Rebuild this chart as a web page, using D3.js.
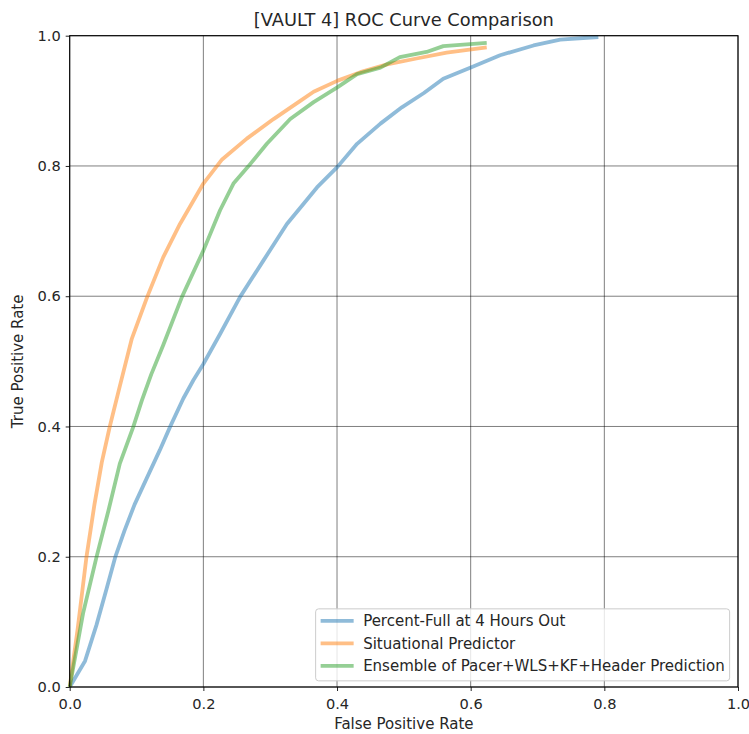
<!DOCTYPE html>
<html>
<head>
<meta charset="utf-8">
<script src="https://d3js.org/d3.v7.min.js"></script>
<style>
  body { margin: 0; background: #fff; }
  text { font-family: "DejaVu Sans", sans-serif; fill: #262626; }
</style>
</head>
<body>
<div class="roc-holder"></div>
<script>
var titleText = "[VAULT 4] ROC Curve Comparison";
var xLabel = "False Positive Rate";
var yLabel = "True Positive Rate";
var tickValues = [0, 0.2, 0.4, 0.6, 0.8, 1.0];
var seriesNames = ["Percent-Full at 4 Hours Out", "Situational Predictor", "Ensemble of Pacer+WLS+KF+Header Prediction"];
var seriesColors = ["#1f77b4", "#ff7f0e", "#2ca02c"];

var percentFullFpr = [0, 0.023, 0.040, 0.055, 0.068, 0.082, 0.097, 0.115, 0.135, 0.150, 0.170, 0.185, 0.200, 0.225, 0.255, 0.290, 0.325, 0.350, 0.370, 0.401, 0.430, 0.465, 0.497, 0.530, 0.559, 0.602, 0.644, 0.694, 0.734, 0.791];
var percentFullTpr = [0, 0.040, 0.095, 0.150, 0.199, 0.240, 0.280, 0.320, 0.364, 0.399, 0.443, 0.471, 0.496, 0.542, 0.599, 0.655, 0.711, 0.742, 0.767, 0.799, 0.834, 0.865, 0.890, 0.912, 0.934, 0.952, 0.970, 0.985, 0.994, 0.998];

var situationalFpr = [0, 0.012, 0.025, 0.037, 0.048, 0.060, 0.075, 0.093, 0.116, 0.140, 0.165, 0.200, 0.228, 0.265, 0.305, 0.345, 0.365, 0.401, 0.435, 0.475, 0.519, 0.564, 0.624];
var situationalTpr = [0, 0.090, 0.199, 0.280, 0.345, 0.400, 0.462, 0.535, 0.599, 0.660, 0.711, 0.773, 0.810, 0.842, 0.872, 0.900, 0.914, 0.931, 0.944, 0.956, 0.965, 0.974, 0.982];

var ensembleFpr = [0, 0.020, 0.040, 0.058, 0.075, 0.095, 0.108, 0.122, 0.140, 0.168, 0.200, 0.225, 0.245, 0.267, 0.295, 0.330, 0.365, 0.401, 0.430, 0.465, 0.494, 0.534, 0.559, 0.624];
var ensembleTpr = [0, 0.113, 0.199, 0.271, 0.343, 0.399, 0.440, 0.480, 0.525, 0.599, 0.670, 0.732, 0.773, 0.799, 0.834, 0.872, 0.898, 0.921, 0.941, 0.951, 0.967, 0.975, 0.984, 0.989];

var series = [
  {name: seriesNames[0], fpr: percentFullFpr, tpr: percentFullTpr},
  {name: seriesNames[1], fpr: situationalFpr, tpr: situationalTpr},
  {name: seriesNames[2], fpr: ensembleFpr, tpr: ensembleTpr}
];

var margin = {top: 35.7, right: 11, bottom: 47, left: 69.7};
var width = 749 - margin.left - margin.right;
var height = 734 - margin.top - margin.bottom;

var scaleX = d3.scaleLinear().domain([0, 1]).range([0, width]);
var scaleY = d3.scaleLinear().domain([0, 1]).range([height, 0]);

var svg = d3.select(".roc-holder")
      .append("svg")
      .attr("width", 749)
      .attr("height", 734)
      .attr("class", "roc-graph");

var grp = svg.append("g").attr("transform", `translate(${margin.left}, ${margin.top})`);

/* grid lines */
grp.append("g").selectAll("line.gx")
  .data(tickValues).enter().append("line")
  .attr("x1", d => scaleX(d)).attr("x2", d => scaleX(d))
  .attr("y1", 0).attr("y2", height)
  .attr("stroke", "#000").attr("stroke-opacity", 0.5).attr("stroke-width", 1);
grp.append("g").selectAll("line.gy")
  .data(tickValues).enter().append("line")
  .attr("y1", d => scaleY(d)).attr("y2", d => scaleY(d))
  .attr("x1", 0).attr("x2", width)
  .attr("stroke", "#000").attr("stroke-opacity", 0.5).attr("stroke-width", 1);

/* curves */
var line = d3.line()
  .x(d => scaleX(d[0]))
  .y(d => scaleY(d[1]));

series.forEach(function(s, i){
  var pts = s.fpr.map((f, j) => [f, s.tpr[j]]);
  grp.append("path")
    .datum(pts)
    .attr("d", line)
    .attr("fill", "none")
    .attr("stroke", seriesColors[i])
    .attr("stroke-opacity", 0.5)
    .attr("stroke-width", 3.8)
    .attr("stroke-linejoin", "round");
});

/* axes */
var fmt = d3.format(".1f");
var xAxis = grp.append("g").attr("transform", `translate(0, ${height})`)
  .call(d3.axisBottom(scaleX).tickValues(tickValues).tickFormat(fmt).tickSizeOuter(0).tickSize(4).tickPadding(5));
var yAxis = grp.append("g")
  .call(d3.axisLeft(scaleY).tickValues(tickValues).tickFormat(fmt).tickSizeOuter(0).tickSize(4).tickPadding(5));
[xAxis, yAxis].forEach(function(a){
  a.select(".domain").remove();
  a.selectAll(".tick line").attr("stroke", "#262626");
  a.selectAll(".tick text").style("font-size", "14.6px").style("font-family", "DejaVu Sans").attr("fill", "#262626");
});
xAxis.selectAll(".tick text").attr("dy", "0.92em");

/* frame */
grp.append("rect")
  .attr("width", width).attr("height", height)
  .attr("fill", "none").attr("stroke", "#000").attr("stroke-width", 1.1);

/* legend */
var legend = grp.append("g")
  .attr("transform", `translate(${scaleX(0.368)}, ${scaleY(0.12)})`);
legend.append("rect")
  .attr("width", 414).attr("height", 72)
  .attr("rx", 3).attr("ry", 3)
  .attr("fill", "#fff").attr("fill-opacity", 0.8)
  .attr("stroke", "#ccc").attr("stroke-width", 1);
var yPad = 22.5;
series.forEach(function(s, i){
  legend.append("line")
    .attr("x1", 5).attr("x2", 38)
    .attr("y1", 12 + i*yPad).attr("y2", 12 + i*yPad)
    .attr("stroke", seriesColors[i]).attr("stroke-opacity", 0.5).attr("stroke-width", 3.8);
  legend.append("text")
    .attr("x", 47.5).attr("y", 12 + i*yPad)
    .attr("dy", "0.36em")
    .text(s.name)
    .style("font-size", "15px");
});

/* title */
svg.append("text")
  .attr("x", margin.left + width / 2)
  .attr("y", 26)
  .attr("text-anchor", "middle")
  .text(titleText)
  .style("font-size", "17.8px");

/* X-axis label */
svg.append("text")
  .attr("x", margin.left + width / 2)
  .attr("y", 729)
  .attr("text-anchor", "middle")
  .text(xLabel)
  .style("font-size", "15px");

/* Y-axis label */
svg.append("text")
  .attr("transform", "rotate(270)")
  .attr("x", -(margin.top + height / 2))
  .attr("y", 23)
  .attr("text-anchor", "middle")
  .text(yLabel)
  .style("font-size", "15px");
</script>
</body>
</html>
